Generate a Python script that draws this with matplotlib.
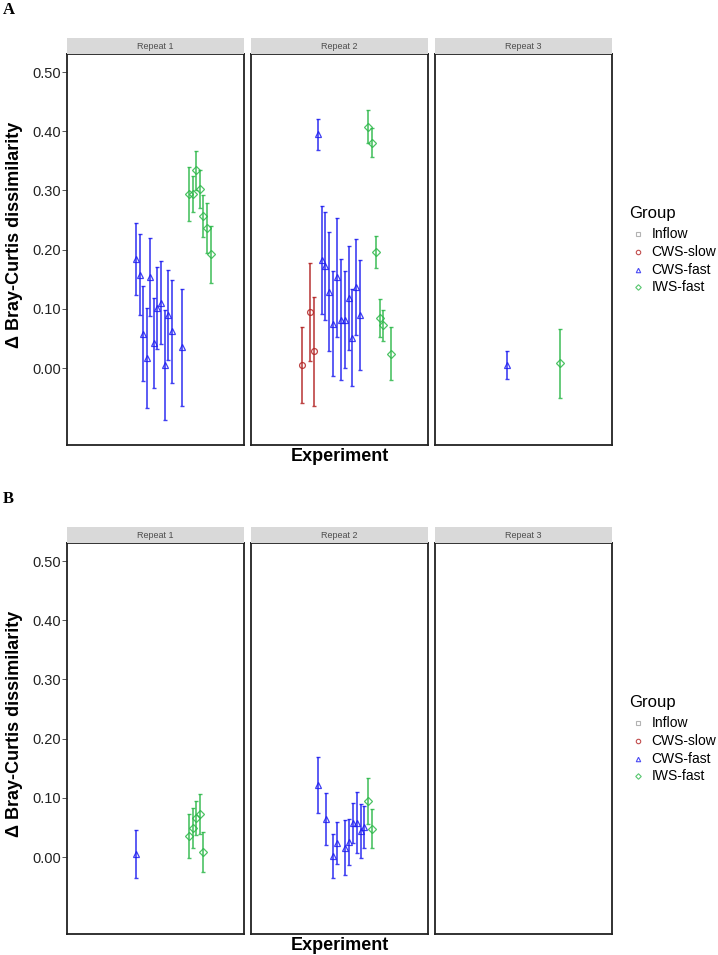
import matplotlib
matplotlib.use("Agg")
from matplotlib import pyplot as plt
from matplotlib.lines import Line2D

plt.rcParams['font.family'] = ['Liberation Sans', 'DejaVu Sans']

groups = ["Inflow", "CWS-slow", "CWS-fast", "IWS-fast"]
colors = {"Inflow": "#A0A0A0", "CWS-slow": "#B22222", "CWS-fast": "#1E1EF0", "IWS-fast": "#2DB84A"}
markers = {"Inflow": "s", "CWS-slow": "o", "CWS-fast": "^", "IWS-fast": "D"}
repeats = ["Repeat 1", "Repeat 2", "Repeat 3"]

# panel A
a_repeat = [1] * 19 + [2] * 21 + [3] * 2
a_group = (["CWS-fast"] * 12 + ["IWS-fast"] * 7
           + ["CWS-slow"] * 3 + ["CWS-fast"] * 12 + ["IWS-fast"] * 6
           + ["CWS-fast", "IWS-fast"])
a_x = [0.391, 0.411, 0.430, 0.451, 0.470, 0.491, 0.509, 0.530, 0.551, 0.570, 0.591, 0.651,
       0.691, 0.709, 0.730, 0.751, 0.770, 0.791, 0.811,
       0.292, 0.335, 0.358,
       0.379, 0.401, 0.422, 0.444, 0.465, 0.488, 0.510, 0.531, 0.554, 0.574, 0.597, 0.620,
       0.663, 0.684, 0.706, 0.729, 0.750, 0.793,
       0.411, 0.708]
a_mean = [0.184, 0.158, 0.058, 0.017, 0.154, 0.043, 0.101, 0.110, 0.005, 0.089, 0.062, 0.035,
          0.294, 0.294, 0.334, 0.303, 0.257, 0.237, 0.192,
          0.005, 0.095, 0.028,
          0.395, 0.182, 0.173, 0.129, 0.075, 0.153, 0.082, 0.082, 0.118, 0.051, 0.137, 0.090,
          0.408, 0.381, 0.196, 0.084, 0.072, 0.024,
          0.005, 0.008]
a_err = [0.061, 0.068, 0.080, 0.084, 0.066, 0.076, 0.069, 0.070, 0.093, 0.076, 0.087, 0.099,
         0.045, 0.031, 0.033, 0.032, 0.035, 0.042, 0.048,
         0.064, 0.083, 0.092,
         0.026, 0.091, 0.091, 0.101, 0.089, 0.101, 0.103, 0.082, 0.088, 0.082, 0.081, 0.093,
         0.028, 0.025, 0.027, 0.032, 0.026, 0.045,
         0.024, 0.058]

# panel B
b_repeat = [1] * 6 + [2] * 12
b_group = ["CWS-fast"] + ["IWS-fast"] * 5 + ["CWS-fast"] * 10 + ["IWS-fast"] * 2
b_x = [0.391, 0.691, 0.709, 0.730, 0.751, 0.770,
       0.379, 0.424, 0.467, 0.490, 0.533, 0.556, 0.576, 0.599, 0.621, 0.642, 0.665, 0.687]
b_mean = [0.005, 0.035, 0.049, 0.066, 0.073, 0.008,
          0.122, 0.064, 0.002, 0.024, 0.016, 0.026, 0.057, 0.058, 0.044, 0.051, 0.094, 0.048]
b_err = [0.040, 0.037, 0.034, 0.029, 0.034, 0.034,
         0.047, 0.044, 0.037, 0.036, 0.046, 0.039, 0.034, 0.052, 0.046, 0.036, 0.039, 0.033]

yticks = [0.0, 0.1, 0.2, 0.3, 0.4, 0.5]

W, H = 718, 955
fig = plt.figure(figsize=(W / 100, H / 100), dpi=100)


def px(x0, y0, x1, y1):
    # pixel box (top-left origin) -> figure fraction rect
    return [x0 / W, 1 - y1 / H, (x1 - x0) / W, (y1 - y0) / H]


panel_x = [(67.3, 244.0), (250.7, 427.7), (434.7, 611.7)]


def draw_block(top, letter, rep, grp, xs, ms, es):
    bottom = top + 390.7
    fig.text(3 / W, 1 - (top - 44) / H, letter, fontsize=12, fontweight="bold",
             family="Liberation Serif", va="center", ha="left")
    for k, (x0, x1) in enumerate(panel_x):
        ax = fig.add_axes(px(x0, top, x1, bottom))
        ax.set_xlim(0, 1)
        ax.set_ylim(-0.13, 0.53)
        for i in range(len(xs)):
            if rep[i] != k + 1:
                continue
            g = grp[i]
            ax.errorbar(xs[i], ms[i], yerr=es[i], color=colors[g], lw=1.2,
                        capsize=1.6, capthick=1.0, alpha=0.85, zorder=2)
            ax.plot(xs[i], ms[i], marker=markers[g], ms=4.2 if g != "IWS-fast" else 3.6,
                    mfc="none", mec=colors[g], mew=0.9, alpha=0.85, zorder=3)
        ax.set_xticks([])
        if k == 0:
            ax.set_yticks(yticks)
            ax.set_yticklabels(["%.2f" % v for v in yticks], fontsize=10.5, color="#222222")
            ax.tick_params(axis="y", length=3.5, width=0.7, color="#555555", pad=1)
        else:
            ax.set_yticks([])
        for s in ax.spines.values():
            s.set_linewidth(1.3)
            s.set_color("#222222")
        # strip
        sax = fig.add_axes(px(x0, top - 16.5, x1, top - 0.5))
        sax.set_facecolor("#D9D9D9")
        sax.set_xticks([])
        sax.set_yticks([])
        for s in sax.spines.values():
            s.set_visible(False)
        sax.text(0.5, 0.45, repeats[k], transform=sax.transAxes, ha="center", va="center",
                 fontsize=6.5, color="#4D4D4D")
    fig.text(339.5 / W, 1 - (bottom + 11.5) / H, "Experiment", ha="center", va="center",
             fontsize=13, fontweight="bold")
    fig.text(15 / W, 1 - (top + 181) / H, "\u0394 Bray-Curtis dissimilarity", rotation=90,
             ha="center", va="center", fontsize=13, fontweight="bold")
    # legend
    fig.text(629 / W, 1 - (top + 159) / H, "Group", ha="left", va="center", fontsize=12)
    for j, g in enumerate(groups):
        yy = top + 180 + j * 17.6
        fig.add_artist(Line2D([637.5 / W], [1 - yy / H], marker=markers[g],
                              ms=3.2 if g != "IWS-fast" else 2.8, mfc="none",
                              mec=colors[g], mew=0.8, alpha=0.8, ls="none"))
        fig.text(651.7 / W, 1 - yy / H, g, ha="left", va="center", fontsize=10)


draw_block(54.3, "A", a_repeat, a_group, a_x, a_mean, a_err)
draw_block(543.3, "B", b_repeat, b_group, b_x, b_mean, b_err)

fig.savefig("out.png", dpi=100)
